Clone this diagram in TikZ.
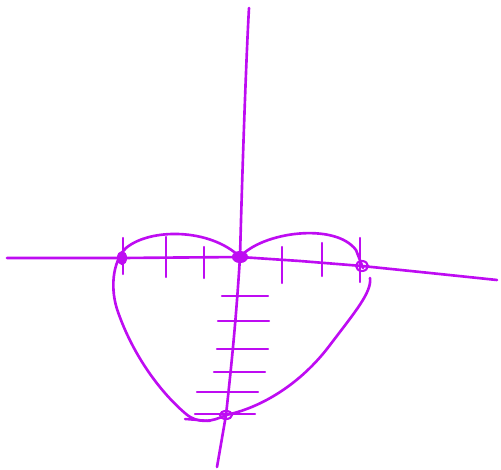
\documentclass[tikz,border=0pt]{standalone}
\usetikzlibrary{arrows.meta,positioning}
\definecolor{penviolet}{RGB}{190,12,242}

\begin{document}
\begin{tikzpicture}[
        x=0.02cm, y=-0.02cm,
        pen/.style={draw=penviolet, line width=1.5pt, line cap=round, line join=round},
        tick/.style={draw=penviolet, line width=1.4pt, line cap=round},
        blob/.style={fill=penviolet, draw=penviolet, line width=1.2pt}
    ]
        \useasboundingbox (0,0) rectangle (501,470);

        \coordinate (origin) at (240,257);
        \coordinate (leftcut) at (122,258);
        \coordinate (rightcut) at (362,266);
        \coordinate (bottomcut) at (226,415);

        \draw[pen] (249,8) .. controls (246,60) and (242,180) .. (origin)
            .. controls (236,320) and (232,360) .. (bottomcut) -- (217,467);
        \draw[pen] (7,258) -- (65,258) -- (leftcut) -- (origin) -- (300,261)
            -- (rightcut) -- (430,273) -- (497,280);

        \draw[pen] (origin) .. controls (210,228) and (150,228) .. (126,248)
            .. controls (112,262) and (110,290) .. (118,312)
            .. controls (133,355) and (160,392) .. (186,414)
            .. controls (198,424) and (212,422) .. (bottomcut)
            .. controls (260,408) and (300,385) .. (330,345)
            .. controls (355,312) and (372,292) .. (370,278);
        \draw[pen] (origin) .. controls (262,232) and (335,222) .. (356,250)
            -- (363,268);

        \foreach \xpos/\ytop/\ybot in {123/238/274, 166/237/277, 204/247/278, 282/247/283, 322/243/276, 360/238/282}
            \draw[tick] (\xpos,\ytop) -- (\xpos,\ybot);
        \foreach \ypos/\xleft/\xright in {296/222/268, 321/218/269, 349/217/268, 372/214/265, 392/197/258, 414/195/255}
            \draw[tick] (\xleft,\ypos) -- (\xright,\ypos);
        \draw[tick] (185,419) -- (210,421);

        \fill[blob] (leftcut) ellipse (4 and 6);
        \fill[blob] (origin) ellipse (7 and 5);
        \draw[blob, fill=none] (rightcut) ellipse (6 and 5);
        \draw[blob, fill=none] (bottomcut) ellipse (6 and 4);
    \end{tikzpicture}
\end{document}
